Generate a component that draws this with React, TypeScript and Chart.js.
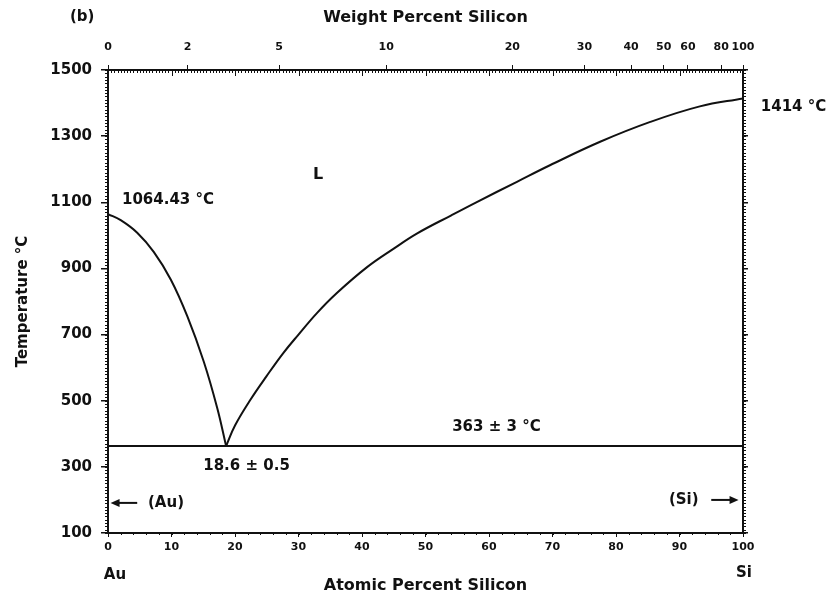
import React, { useEffect, useRef } from 'react';
import { Chart, registerables } from 'chart.js';

Chart.register(...registerables);

// ---- Data ----
const leftLiquidusAt = [0, 2, 4.6, 7.2, 9.9, 12.5, 15.1, 17.2, 18.6];
const leftLiquidusT = [1064.43, 1046, 1008, 950, 866, 755, 617, 478, 363];
const rightLiquidusAt = [18.6, 20, 22.4, 25, 27.6, 30, 32.9, 36, 40.8, 45, 48.7, 54, 58, 64.4, 69.6, 77.5, 85.4, 93.2, 100];
const rightLiquidusT = [363, 425, 502, 575, 644, 700, 765, 825, 904, 960, 1006, 1060, 1100, 1162, 1212, 1283, 1343, 1390, 1414];
const eutecticAt = [0, 100];
const eutecticT = [363, 363];
const weightLabels = ['0', '2', '5', '10', '20', '30', '40', '50', '60', '80', '100'];
const weightAtPos = [0, 12.52, 26.96, 43.8, 63.68, 75.04, 82.38, 87.52, 91.32, 96.56, 100];
const tempMin = 100;
const tempMax = 1500;
const tempStep = 200;
const atomicStep = 10;

const FONT = 'DejaVu Sans';
const INK = '#111';

const annotations = [
  { text: '1064.43 °C', at: 2.2, t: 1106, align: 'left', size: 15 },
  { text: 'L', at: 33.1, t: 1182, align: 'center', size: 16 },
  { text: '1414 °C', at: 102.8, t: 1387, align: 'left', size: 15 },
  { text: '363 ± 3 °C', at: 54.2, t: 420, align: 'left', size: 15 },
  { text: '18.6 ± 0.5', at: 15.0, t: 302, align: 'left', size: 15 },
  { text: '(Au)', at: 6.3, t: 191, align: 'left', size: 15 },
  { text: '(Si)', at: 93.0, t: 200, align: 'right', size: 15 },
];
const arrows = [
  { from: 4.6, to: 0.4, t: 191 },
  { from: 95.0, to: 99.3, t: 200 },
];

const toPts = (xs: number[], ys: number[]) => xs.map((x, i) => ({ x, y: ys[i] }));

const decorPlugin = {
  id: 'decor',
  afterDraw(chart: any) {
    const ctx = chart.ctx;
    const x = chart.scales.x;
    const y = chart.scales.y;
    const { left, right, top, bottom } = chart.chartArea;
    ctx.save();
    ctx.strokeStyle = INK;
    ctx.fillStyle = INK;
    ctx.lineWidth = 1;
    // minor ticks left/right
    ctx.beginPath();
    for (let t = tempMin; t <= tempMax; t += 10) {
      const py = Math.round(y.getPixelForValue(t)) + 0.5;
      ctx.moveTo(left - 3, py);
      ctx.lineTo(left, py);
      ctx.moveTo(right, py);
      ctx.lineTo(right + 3, py);
    }
    // minor ticks top/bottom
    for (let a = 0; a <= 100; a += 0.5) {
      const px = Math.round(x.getPixelForValue(a)) + 0.5;
      const major = Math.abs(a % 10) < 1e-6;
      ctx.moveTo(px, top);
      ctx.lineTo(px, top + (major ? 6 : 3));
      if (Math.abs(a % 2) < 1e-6) {
        ctx.moveTo(px, bottom);
        ctx.lineTo(px, bottom + 2);
      }
    }
    ctx.stroke();

    // annotations
    ctx.textBaseline = 'middle';
    for (const a of annotations) {
      ctx.font = `bold ${a.size}px "${FONT}"`;
      ctx.textAlign = a.align as CanvasTextAlign;
      ctx.fillText(a.text, x.getPixelForValue(a.at), y.getPixelForValue(a.t));
    }
    // arrows
    ctx.lineWidth = 2;
    for (const ar of arrows) {
      const x1 = x.getPixelForValue(ar.from);
      const x2 = x.getPixelForValue(ar.to);
      const py = y.getPixelForValue(ar.t);
      const dir = Math.sign(x2 - x1);
      ctx.beginPath();
      ctx.moveTo(x1, py);
      ctx.lineTo(x2 - dir * 6, py);
      ctx.stroke();
      ctx.beginPath();
      ctx.moveTo(x2, py);
      ctx.lineTo(x2 - dir * 9, py - 4);
      ctx.lineTo(x2 - dir * 9, py + 4);
      ctx.closePath();
      ctx.fill();
    }
    // element names under the axis ends
    ctx.font = `bold 15px "${FONT}"`;
    ctx.textAlign = 'center';
    ctx.fillText('Au', x.getPixelForValue(0) + 7, bottom + 42);
    ctx.fillText('Si', x.getPixelForValue(100) + 1, bottom + 40);
    // panel label
    ctx.textAlign = 'left';
    ctx.fillText('(b)', 70, 17);
    ctx.restore();
  },
};

export default function App() {
  const ref = useRef<HTMLCanvasElement>(null);
  useEffect(() => {
    if (!ref.current) return;
    const lineStyle = {
      showLine: true,
      borderColor: INK,
      borderWidth: 2,
      pointRadius: 0,
      fill: false,
    };
    const chart = new Chart(ref.current, {
      type: 'scatter',
      data: {
        datasets: [
          { ...lineStyle, label: 'Liquidus (Au side)', data: toPts(leftLiquidusAt, leftLiquidusT), tension: 0.4 },
          { ...lineStyle, label: 'Liquidus (Si side)', data: toPts(rightLiquidusAt, rightLiquidusT), tension: 0.4 },
          { ...lineStyle, label: 'Eutectic', data: toPts(eutecticAt, eutecticT) },
        ],
      } as any,
      options: {
        animation: false,
        responsive: false,
        devicePixelRatio: 1,
        layout: { padding: 0 },
        plugins: { legend: { display: false }, tooltip: { enabled: false } },
        scales: {
          x: {
            type: 'linear',
            position: 'bottom',
            min: 0,
            max: 100,
            ticks: { stepSize: atomicStep, color: INK, font: { family: FONT, size: 11, weight: 'bold' }, padding: 4, maxRotation: 0 },
            grid: { drawOnChartArea: false, drawTicks: true, tickLength: 4, color: INK, lineWidth: 1 },
            border: { display: true, color: INK, width: 2 },
            title: { display: true, text: 'Atomic Percent Silicon', color: INK, font: { family: FONT, size: 16, weight: 'bold' }, padding: { top: 0, bottom: 3 } },
            afterFit: (s: any) => { s.height = 65; },
          },
          x2: {
            type: 'linear',
            position: 'top',
            min: 0,
            max: 100,
            afterBuildTicks: (s: any) => { s.ticks = weightAtPos.map((v) => ({ value: v })); },
            ticks: {
              autoSkip: false,
              maxRotation: 0,
              color: INK,
              font: { family: FONT, size: 11, weight: 'bold' },
              padding: 11,
              callback: (_v: any, i: number) => weightLabels[i],
            },
            grid: { drawOnChartArea: false, drawTicks: true, tickLength: 5, color: INK, lineWidth: 1 },
            border: { display: true, color: INK, width: 2 },
            title: { display: true, text: 'Weight Percent Silicon', align: 'center', color: INK, font: { family: FONT, size: 16, weight: 'bold' }, padding: { top: 8, bottom: 0 } },
            afterFit: (s: any) => { s.height = 70; },
          },
          y: {
            type: 'linear',
            position: 'left',
            min: tempMin,
            max: tempMax,
            ticks: {
              stepSize: tempStep,
              color: INK,
              font: { family: FONT, size: 15, weight: 'bold' },
              padding: 9,
              callback: (v: any) => String(v),
            },
            grid: { drawOnChartArea: false, drawTicks: true, tickLength: 7, color: INK, lineWidth: 1.5 },
            border: { display: true, color: INK, width: 2 },
            title: { display: true, text: 'Temperature °C', color: INK, font: { family: FONT, size: 15, weight: 'bold' }, padding: { top: 14, bottom: 0 } },
            afterFit: (s: any) => { s.width = 108; },
          },
          y2: {
            type: 'linear',
            position: 'right',
            min: tempMin,
            max: tempMax,
            ticks: { stepSize: tempStep, display: false },
            grid: { drawOnChartArea: false, drawTicks: true, tickLength: 5, color: INK, lineWidth: 1.5 },
            border: { display: true, color: INK, width: 2 },
            afterFit: (s: any) => { s.width = 91; },
          },
        },
      } as any,
      plugins: [decorPlugin],
    });
    return () => chart.destroy();
  }, []);
  return (
    <div style={{ position: 'absolute', left: 0, top: 0, width: 834, height: 598, background: '#fff' }}>
      <canvas ref={ref} width={834} height={598} style={{ display: 'block' }} />
    </div>
  );
}
